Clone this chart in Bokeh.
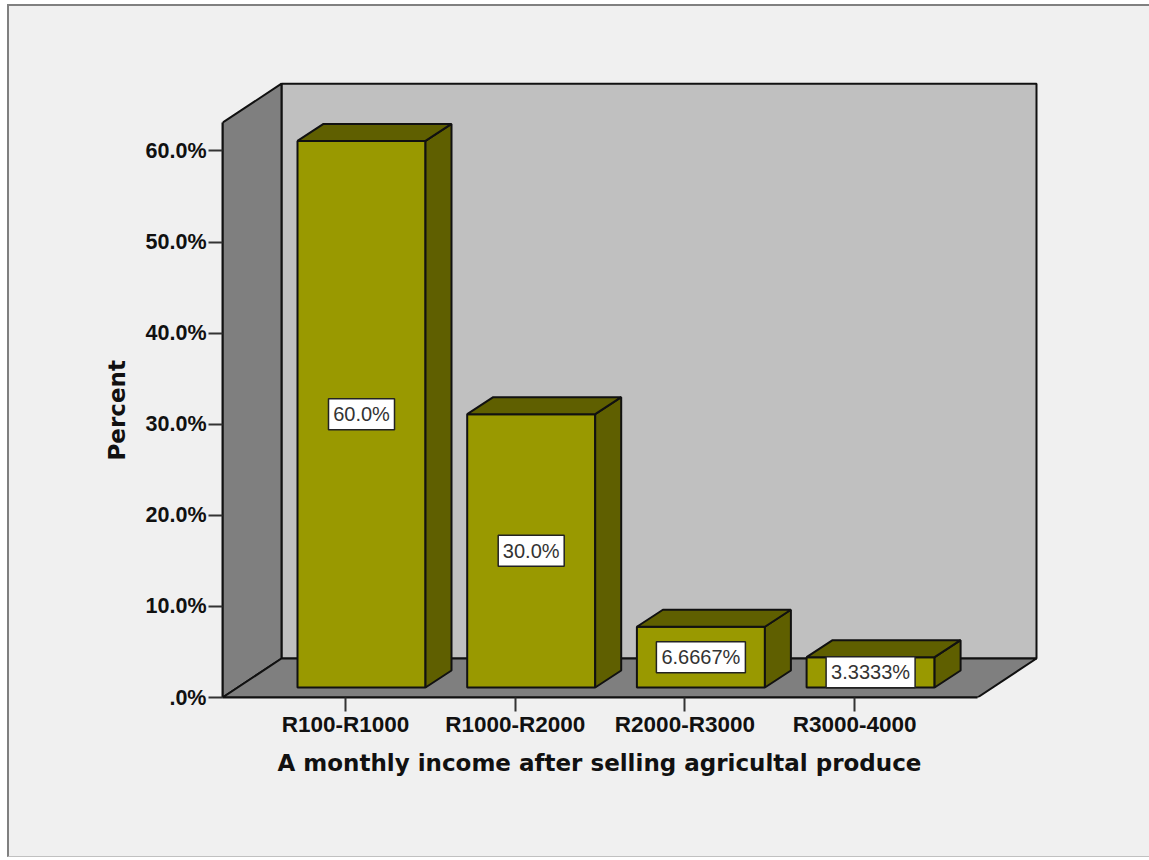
from bokeh.plotting import figure
from bokeh.models import LinearAxis, FixedTicker, Range1d, ColumnDataSource, Title
from bokeh.core.properties import value
from bokeh.embed import file_html
from bokeh.resources import INLINE

categories = ["R100-R1000", "R1000-R2000", "R2000-R3000", "R3000-4000"]
percents = [60.0, 30.0, 6.6667, 3.3333]
bar_labels = ["60.0%", "30.0%", "6.6667%", "3.3333%"]
y_ticks = [0, 10, 20, 30, 40, 50, 60]
y_tick_labels = [".0%", "10.0%", "20.0%", "30.0%", "40.0%", "50.0%", "60.0%"]
x_title = "A monthly income after selling agricultal produce"
y_title = "Percent"

# scale of the picture: 169.7 px per category, 9.11 px per percent
XU = 169.7
YU = 9.11
WALL_DX, WALL_DY = 59 / XU, 39 / YU
BAR_DX, BAR_DY = 26 / XU, 17 / YU
BAR_HALF = 64 / XU
BAR_SHIFT = 16 / XU
BAR_BASE = 10 / YU
X0 = -123 / XU
FLOOR_R = 632 / XU
WALL_TOP = 63.1

FRONT = "#999900"
DARK = "#5f5f00"
WALL = "#7f7f7f"
BACK = "#c0c0c0"
BG = "#f0f0f0"
INK = "#111111"
FONT = "Liberation Sans"
TITLE_FONT = "DejaVu Sans"

p = figure(
    width=1142, height=853, output_backend="svg", toolbar_location=None,
    x_range=Range1d(X0, 694 / XU), y_range=Range1d(0, 617 / YU),
    x_axis_type=None, y_axis_type=None,
    min_border_left=213, min_border_right=112, min_border_top=74, min_border_bottom=162,
    background_fill_color=BG, border_fill_color=BG, outline_line_color=None,
)
p.styles = {"margin-left": "7px", "margin-top": "4px", "background-color": BG,
            "border-left": "2px solid #808080", "border-top": "2px solid #808080",
            "border-bottom": "1px solid #c0c0c0"}
p.grid.visible = False

# walls and floor
line = dict(line_color=INK, line_width=2)
p.patch([X0 + WALL_DX, FLOOR_R + WALL_DX, FLOOR_R + WALL_DX, X0 + WALL_DX],
        [WALL_DY, WALL_DY, WALL_TOP + WALL_DY, WALL_TOP + WALL_DY], fill_color=BACK, **line)
p.patch([X0, X0 + WALL_DX, X0 + WALL_DX, X0],
        [0, WALL_DY, WALL_TOP + WALL_DY, WALL_TOP], fill_color=WALL, **line)
p.patch([X0, FLOOR_R, FLOOR_R + WALL_DX, X0 + WALL_DX],
        [0, 0, WALL_DY, WALL_DY], fill_color=WALL, **line)

# bars
lefts = [i + BAR_SHIFT - BAR_HALF for i in range(len(percents))]
rights = [i + BAR_SHIFT + BAR_HALF for i in range(len(percents))]
tops = [BAR_BASE + v for v in percents]
p.patches(
    xs=[[l, r, r, l] for l, r in zip(lefts, rights)],
    ys=[[BAR_BASE, BAR_BASE, t, t] for t in tops],
    fill_color=FRONT, **line)
p.patches(
    xs=[[r, r + BAR_DX, r + BAR_DX, r] for r in rights],
    ys=[[BAR_BASE, BAR_BASE + BAR_DY, t + BAR_DY, t] for t in tops],
    fill_color=DARK, **line)
p.patches(
    xs=[[l, r, r + BAR_DX, l + BAR_DX] for l, r in zip(lefts, rights)],
    ys=[[t, t, t + BAR_DY, t + BAR_DY] for t in tops],
    fill_color=DARK, **line)

# value labels
src = ColumnDataSource(dict(
    x=[i + BAR_SHIFT for i in range(len(percents))],
    y=[BAR_BASE + v / 2 for v in percents],
    w=[66, 66, 89, 89],
    t=bar_labels,
))
p.rect("x", "y", width="w", height=31, width_units="screen", height_units="screen", source=src,
       fill_color="white", line_color="#222222", line_width=1.5)
p.text("x", "y", text="t", source=src, text_align="center", text_baseline="middle",
       text_font=value(FONT), text_font_size="20px", text_color="#333333")

# axes
def style(ax, size):
    ax.major_label_text_font = FONT
    ax.major_label_text_font_style = "bold"
    ax.major_label_text_font_size = size
    ax.major_label_text_color = INK
    ax.axis_line_color = INK
    ax.axis_line_width = 2
    ax.major_tick_line_color = "#333333"
    ax.major_tick_line_width = 2
    ax.major_tick_in = 0
    ax.major_tick_out = 14
    ax.minor_tick_line_color = None

yax = LinearAxis(ticker=FixedTicker(ticks=y_ticks), bounds=(0, WALL_TOP),
                 major_label_overrides=dict(zip(y_ticks, y_tick_labels)))
style(yax, "21.5px")
yax.major_label_standoff = 2
p.add_layout(yax, "left")

x_ticks = list(range(len(categories)))
xax = LinearAxis(ticker=FixedTicker(ticks=x_ticks), bounds=(X0, FLOOR_R),
                 major_label_overrides=dict(zip(x_ticks, categories)))
style(xax, "22.5px")
xax.major_label_standoff = 0
p.add_layout(xax, "below")

# axis titles sit off the frame's centre in the reference, so they are side titles with an offset
title_style = dict(text_font=TITLE_FONT, text_font_style="bold", text_font_size="23px",
                   text_color=INK, align="left")
p.add_layout(Title(text=x_title, offset=55, standoff=16, **title_style), "below")
p.add_layout(Title(text=y_title, offset=237, standoff=26, **title_style), "left")

open("out.html", "w").write(file_html(p, INLINE))
